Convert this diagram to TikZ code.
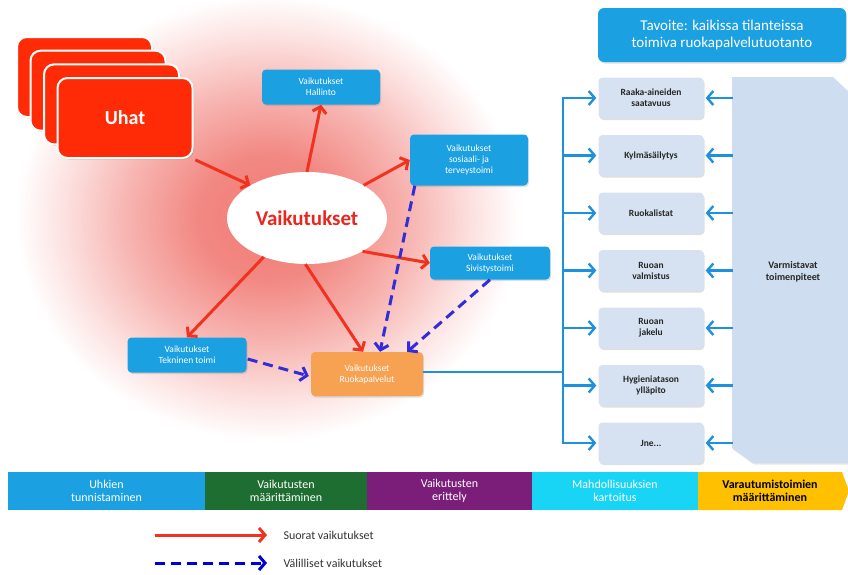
\documentclass[tikz,border=0pt]{standalone}
\usepackage{fontspec}
\setmainfont{Carlito}
\usetikzlibrary{arrows.meta,shadows,calc,shapes.geometric}
\definecolor{uhred}{RGB}{255,43,6}
\definecolor{vkred}{RGB}{232,40,30}
\definecolor{arrred}{RGB}{240,50,30}
\definecolor{bxblue}{RGB}{27,160,226}
\definecolor{lnblue}{RGB}{30,144,224}
\definecolor{dshblue}{RGB}{50,45,215}
\definecolor{orng}{RGB}{246,162,82}
\definecolor{gbox}{RGB}{214,226,242}
\definecolor{bigc}{RGB}{206,221,240}
\definecolor{barblue}{RGB}{27,161,226}
\definecolor{bargreen}{RGB}{30,110,50}
\definecolor{barpurple}{RGB}{123,30,122}
\definecolor{barcyan}{RGB}{24,212,245}
\definecolor{baryellow}{RGB}{255,192,0}
\pgfdeclareradialshading{glow}{\pgfpoint{0bp}{0bp}}{color(0bp)=(vkred!62); color(6bp)=(vkred!55); color(12bp)=(vkred!34); color(17bp)=(vkred!14); color(21bp)=(white); color(25bp)=(white); color(50bp)=(white)}
\tikzset{
  card/.style={draw=white, line width=2pt, fill=uhred, rounded corners=10pt, minimum width=135pt, minimum height=80pt, inner sep=0pt,
    drop shadow={opacity=0.35, shadow xshift=1.5pt, shadow yshift=-1.5pt}},
  bbox/.style={fill=bxblue, rounded corners=4pt, text=white, font=\fontsize{9.5}{11}\selectfont, align=center, inner sep=0pt,
    drop shadow={opacity=0.25, shadow xshift=1pt, shadow yshift=-1.5pt}},
  gbx/.style={fill=gbox, rounded corners=4pt, text=black!85, font=\bfseries\fontsize{9.5}{11}\selectfont, align=center, inner sep=0pt,
    minimum width=105pt, minimum height=41pt, drop shadow={opacity=0.25, shadow xshift=1pt, shadow yshift=-1.5pt}},
  redarr/.style={draw=arrred, line width=3pt, -{Straight Barb[length=6pt,width=14pt]}},
  dsharr/.style={draw=dshblue, line width=3pt, dash pattern=on 10pt off 6pt, -{Straight Barb[length=6pt,width=14pt]}},
  blarr/.style={draw=lnblue, line width=2.4pt, -{Straight Barb[length=6pt,width=14pt]}},
  barseg/.style={minimum height=38pt, inner sep=0pt, outer sep=0pt, align=center, text=white, font=\fontsize{12}{13}\selectfont},
  legtxt/.style={anchor=west, text=black!80, font=\fontsize{12}{14}\selectfont}
}
\begin{document}
\begin{tikzpicture}[x=1pt,y=-1pt]
\useasboundingbox (0,0) rectangle (848,574);
% glow
\shade[shading=glow] (268,218) ellipse [x radius=300, y radius=265];
% threat cards
\node[card] (c1) at (84.5,77) {};
\node[card] (c2) at (98,90.7) {};
\node[card] (c3) at (111.5,104.4) {};
\node[card, text=white, font=\bfseries\fontsize{20}{22}\selectfont] (c4) at (125,118) {Uhat};
% central ellipse
\node[ellipse, fill=white, minimum width=160pt, minimum height=92pt, inner sep=0pt, text=vkred, font=\bfseries\fontsize{21}{24}\selectfont] (vk) at (307,218) {Vaikutukset};
% impact boxes
\node[bbox, minimum width=118pt, minimum height=35pt] (hal) at (321,87) {Vaikutukset\\Hallinto};
\node[bbox, minimum width=118pt, minimum height=51pt] (sos) at (469,160) {Vaikutukset\\sosiaali- ja\\terveystoimi};
\node[bbox, minimum width=120pt, minimum height=33pt] (siv) at (490,263) {Vaikutukset\\Sivistystoimi};
\node[bbox, minimum width=119pt, minimum height=35pt] (tek) at (187,355) {Vaikutukset\\Tekninen toimi};
\node[bbox, fill=orng, minimum width=112pt, minimum height=44pt] (ruo) at (367,374) {Vaikutukset\\Ruokapalvelut};
% direct arrows
\draw[redarr, shorten <=2pt] (c4.south east) -- (vk.150);
\draw[redarr] (vk.north) -- (hal.south);
\draw[redarr] (vk.30) -- (sos.west);
\draw[redarr] (vk.-31) -- (siv.west);
\draw[redarr] (vk.-138) -- (tek.north);
\draw[redarr] (vk.-92) -- ($(ruo.north)+(-4,0)$);
% indirect arrows
\draw[dsharr] ($(sos.south west)+(5,0)$) -- ($(ruo.north)+(13,0)$);
\draw[dsharr] (siv.south) -- ($(ruo.north east)+(-16,0)$);
\draw[dsharr] ($(tek.east)+(1,4)$) -- ($(ruo.west)+(-2,2)$);
% goal box
\node[fill=bxblue, rounded corners=6pt, minimum width=248pt, minimum height=54pt, inner sep=0pt, align=center, text=white,
  font=\fontsize{15}{17}\selectfont, drop shadow={opacity=0.25, shadow xshift=1pt, shadow yshift=-1.5pt}] (goal) at (722,35)
  {Tavoite: kaikissa tilanteissa\\toimiva ruokapalvelutuotanto};
% big shape
\fill[bigc, drop shadow={opacity=0.2, shadow xshift=1pt, shadow yshift=-1.5pt}] (732,77) -- (833,77) -- (850,93) -- (850,463) -- (753,463) -- (732,448) -- cycle;
\node[text=black!85, align=center, font=\bfseries\fontsize{10}{11.5}\selectfont] (varm) at (793,272) {Varmistavat\\toimenpiteet};
\coordinate (bigl) at (733,270);
% process boxes
\node[gbx] (b1) at (651,98) {Raaka-aineiden\\saatavuus};
\node[gbx] (b2) at (651,155.5) {Kylmäsäilytys};
\node[gbx] (b3) at (651,213) {Ruokalistat};
\node[gbx] (b4) at (651,270.5) {Ruoan\\valmistus};
\node[gbx] (b5) at (651,328) {Ruoan\\jakelu};
\node[gbx] (b6) at (651,385.5) {Hygieniatason\\ylläpito};
\node[gbx] (b7) at (651,443) {Jne...};
% distribution line
\coordinate (vtop) at (563,97);
\coordinate (vbot) at (563,444);
\draw[lnblue, line width=2.4pt] (vtop) -- (vbot);
\draw[lnblue, line width=2.4pt] ($(ruo.east)+(0,-2)$) -- ($(ruo.east -| vtop)+(0,-2)$);
\foreach \b in {b1,b2,b3,b4,b5,b6,b7}{
  \draw[blarr] (vtop |- \b.west) -- ([xshift=-2pt]\b.west);
  \draw[blarr] (bigl |- \b.east) -- ([xshift=2pt]\b.east);
}
% phase bar
\node[barseg, fill=barblue, minimum width=197pt] (p1) at (106.5,491) {Uhkien\\tunnistaminen};
\node[barseg, fill=bargreen, minimum width=162pt] (p2) at (286,491) {Vaikutusten\\määrittäminen};
\node[barseg, fill=barpurple, minimum width=165pt] (p3) at (449.5,491) {Vaikutusten\\erittely};
\node[barseg, fill=barcyan, minimum width=166pt] (p4) at (615,491) {Mahdollisuuksien\\kartoitus};
\fill[baryellow] (698,472) -- (842,472) -- (849,491) -- (842,510) -- (698,510) -- cycle;
\node[barseg, text=black, font=\bfseries\fontsize{12}{13}\selectfont] (p5) at (770,491) {Varautumistoimien\\määrittäminen};
% legend
\coordinate (l1a) at (155,535);
\coordinate (l1b) at (267,535);
\coordinate (l2a) at (155,563);
\coordinate (l2b) at (267,563);
\draw[redarr] (l1a) -- (l1b);
\draw[dsharr, draw=blue!85!black] (l2a) -- (l2b);
\node[legtxt] (t1) at (280,535) {Suorat vaikutukset};
\node[legtxt] (t2) at (280,563) {Välilliset vaikutukset};
\end{tikzpicture}
\end{document}
